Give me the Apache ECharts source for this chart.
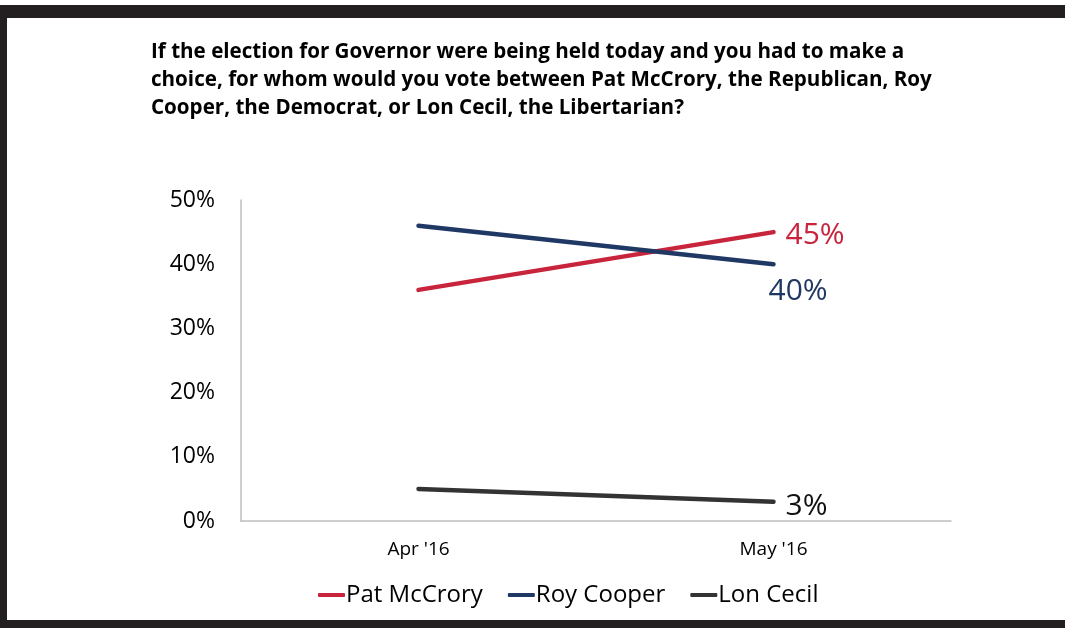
<!DOCTYPE html>
<html><head><meta charset="utf-8">
<script src="https://cdn.jsdelivr.net/npm/echarts@6/dist/echarts.min.js"></script>
<style>html,body{margin:0;padding:0;background:#fff;}#c{width:1065px;height:628px;}</style>
</head><body><div id="c"></div>
<script>
const categories = ["Apr '16", "May '16"];
const seriesNames = ["Pat McCrory", "Roy Cooper", "Lon Cecil"];
const mccrory = [36, 45];
const cooper = [46, 40];
const cecil = [5, 3];
const yTicks = [0, 10, 20, 30, 40, 50];
const titleText = "If the election for Governor were being held today and you had to make a\nchoice, for whom would you vote between Pat McCrory, the Republican, Roy\nCooper, the Democrat, or Lon Cecil, the Libertarian?";

const colors = ['#C8243C', '#1F3864', '#333333'];
const FONT = 'Open Sans';

function mkSeries(name, data, color, labelColor, labelOffset) {
  return {
    name: name, type: 'line',
    data: data.map((v, i) => ({
      value: v,
      label: i === data.length - 1 ? {
        show: true, position: 'right', distance: 5, offset: labelOffset, formatter: '{c}%',
        color: labelColor, fontSize: 30, fontFamily: FONT
      } : { show: false }
    })),
    symbol: 'circle', symbolSize: 0, showSymbol: true, color: color,
    itemStyle: { color: color },
    lineStyle: { width: 4.5, color: color, cap: 'round' }
  };
}

const chart = echarts.init(document.getElementById('c'), null, { renderer: 'canvas' });
chart.setOption({
  backgroundColor: '#fff',
  animation: false,
  textStyle: { fontFamily: FONT },
  title: {
    text: titleText, left: 146, top: 33,
    textStyle: { fontFamily: FONT, fontWeight: 'bold', fontSize: 20.6, lineHeight: 28, color: '#000' }
  },
  graphic: [
    { type: 'rect', shape: { x: 0, y: 5, width: 1065, height: 13 }, style: { fill: '#231f20' }, silent: true },
    { type: 'rect', shape: { x: 0, y: 5, width: 7, height: 623 }, style: { fill: '#231f20' }, silent: true },
    { type: 'rect', shape: { x: 0, y: 620, width: 1065, height: 8 }, style: { fill: '#231f20' }, silent: true }
  ],
  grid: { left: 241, top: 200, right: 114, bottom: 107, containLabel: false },
  legend: {
    data: seriesNames, left: 313, top: 578,
    icon: 'roundRect', itemWidth: 27, itemHeight: 4, itemGap: 25,
    textStyle: { fontFamily: FONT, fontSize: 24, color: '#000', padding: [0, 0, 0, -4] }
  },
  xAxis: {
    type: 'category', data: categories, boundaryGap: true,
    axisLine: { show: true, lineStyle: { color: '#bfbfbf', width: 1.5 } },
    axisTick: { show: false },
    axisLabel: { fontFamily: FONT, fontSize: 19, color: '#000', margin: 19 }
  },
  yAxis: {
    type: 'value', min: 0, max: 50, interval: 10,
    axisLine: { show: true, lineStyle: { color: '#bfbfbf', width: 1.5 } },
    axisTick: { show: false },
    splitLine: { show: false },
    axisLabel: { fontFamily: FONT, fontSize: 23, color: '#000', margin: 26,
      formatter: v => yTicks.includes(v) ? v + '%' : '' }
  },
  series: [
    mkSeries(seriesNames[0], mccrory, colors[0], '#C8243C', [7, 3]),
    mkSeries(seriesNames[1], cooper, colors[1], '#1F3864', [-10, 27]),
    mkSeries(seriesNames[2], cecil, colors[2], '#111111', [7, 5])
  ]
});
</script></body></html>
